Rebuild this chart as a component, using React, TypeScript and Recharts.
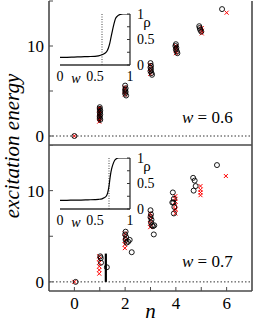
import React from 'react';
import {
  ScatterChart,
  Scatter,
  LineChart,
  Line,
  XAxis,
  YAxis,
  ReferenceLine,
} from 'recharts';

type Pt = [number, number];
type Bar = [number, number, number];

const FONT = '"Liberation Serif", "Times New Roman", serif';

const nTicks = [0, 1, 2, 3, 4, 5, 6];
const nLabels = [0, 2, 4, 6];
const eTicks = [0, 5, 10, 15];
const eLabels = [0, 10];

// panel w = 0.6
const circles06: Pt[] = [
  [0, 0],
  [1.0, 3.2], [1.0, 3.0], [1.02, 2.8], [1.0, 2.6], [1.02, 2.4], [1.0, 2.2], [1.0, 2.0], [1.02, 1.8],
  [2.0, 5.6], [2.02, 5.3], [2.0, 5.1], [2.02, 4.9], [2.0, 4.7], [2.04, 4.5],
  [3.0, 8.1], [3.02, 7.8], [3.0, 7.6], [3.02, 7.4], [3.0, 7.2], [3.04, 7.0], [3.06, 6.8],
  [4.0, 10.2], [3.98, 10.0], [4.02, 9.8], [4.0, 9.6], [4.04, 9.4], [4.06, 9.2],
  [4.92, 12.2], [4.94, 12.0], [4.96, 11.8], [5.0, 11.6],
  [5.82, 14.1],
];
const crosses06: Pt[] = [
  [0, 0],
  [0.98, 1.6], [0.98, 1.9], [0.98, 2.2], [0.98, 2.5], [0.98, 2.8], [0.98, 3.1],
  [1.99, 4.6], [1.99, 4.9], [1.99, 5.2], [1.99, 5.4],
  [2.99, 6.9], [2.99, 7.2], [2.99, 7.5], [2.99, 7.9],
  [4.0, 9.2], [4.0, 9.5], [4.0, 9.8], [4.0, 10.0],
  [5.02, 11.4], [5.02, 11.7], [5.02, 12.0],
  [6.0, 13.7],
];
const bars06: Bar[] = [[1.0, 1.5, 3.3]];

// panel w = 0.7
const circles07: Pt[] = [
  [0.05, 0],
  [1.02, 2.8], [1.04, 2.6], [1.05, 2.1], [1.28, 1.6],
  [2.02, 5.5], [2.0, 5.2], [2.04, 4.9], [2.02, 4.6], [2.06, 4.3], [2.12, 4.4], [2.18, 4.6], [2.26, 3.25],
  [3.0, 7.85], [3.02, 7.4], [3.0, 7.1], [3.04, 6.8], [3.02, 6.5], [3.06, 6.2], [3.1, 6.1], [3.15, 6.2], [3.13, 5.2],
  [3.88, 9.8], [3.92, 9.1], [3.9, 8.7], [3.86, 8.7], [3.94, 8.2], [3.92, 7.5],
  [4.68, 11.4], [4.74, 11.1], [4.78, 10.5], [4.7, 10.0],
  [5.62, 12.8],
];
const crosses07: Pt[] = [
  [0, 0],
  [0.98, 0.9], [0.98, 1.3], [0.98, 1.7], [0.98, 2.1], [0.98, 2.5], [0.98, 2.8],
  [1.99, 3.7], [1.99, 4.1], [1.99, 4.5], [1.99, 4.9], [1.99, 5.3],
  [2.99, 6.0], [2.99, 6.4], [2.99, 6.8], [2.99, 7.2], [2.99, 7.5],
  [3.98, 7.5], [3.98, 7.9], [3.98, 8.0], [3.98, 8.4], [3.98, 8.8], [3.98, 9.1], [3.98, 9.4],
  [4.97, 9.5], [4.97, 9.8], [4.97, 10.1], [4.97, 10.5],
  [5.97, 11.6],
];
const bars07: Bar[] = [[1.24, 0, 3.1]];

// insets: rho vs w
const insetTicks = [0, 0.5, 1];
const wTop = [0, 0.1, 0.2, 0.3, 0.4, 0.5, 0.55, 0.6, 0.64, 0.67, 0.69, 0.71, 0.73, 0.75, 0.77, 0.79, 0.82, 0.86, 0.9, 0.95, 1];
const rhoTop = [0.15, 0.15, 0.155, 0.16, 0.165, 0.17, 0.18, 0.2, 0.23, 0.27, 0.33, 0.42, 0.55, 0.68, 0.8, 0.9, 0.96, 0.99, 1.0, 1.0, 1.0];
const wBot = [0, 0.1, 0.2, 0.3, 0.4, 0.5, 0.55, 0.6, 0.63, 0.66, 0.68, 0.7, 0.72, 0.74, 0.76, 0.78, 0.8, 0.84, 0.9, 1];
const rhoBot = [0.17, 0.17, 0.175, 0.175, 0.18, 0.185, 0.19, 0.2, 0.22, 0.25, 0.31, 0.45, 0.66, 0.8, 0.89, 0.95, 0.98, 1.0, 1.0, 1.0];

const frame = { stroke: '#4a4a4a', strokeWidth: 1.6 };
const tickLn = { stroke: '#4a4a4a', strokeWidth: 1 };

const Circle = (p: any) => (
  <circle cx={p.cx} cy={p.cy} r={2.5} fill="none" stroke="#000" strokeWidth={0.9} />
);
const Cross = (p: any) => (
  <path
    d={`M${p.cx - 2},${p.cy - 2}L${p.cx + 2},${p.cy + 2}M${p.cx - 2},${p.cy + 2}L${p.cx + 2},${p.cy - 2}`}
    stroke="#ff0000"
    strokeWidth={1}
  />
);

interface PanelProps {
  circles: Pt[];
  crosses: Pt[];
  bars: Bar[];
  bottom?: boolean;
}

const toXY = (pts: Pt[]) => pts.map(([x, y]) => ({ x, y }));

const Panel = ({ circles, crosses, bars, bottom }: PanelProps) => (
  <ScatterChart
    width={253}
    height={bottom ? 178 : 146}
    margin={{ top: bottom ? 0 : 1, right: 0, bottom: 0, left: 0 }}
  >
    <XAxis
      xAxisId="b"
      type="number"
      dataKey="x"
      domain={[-1, 7]}
      ticks={nTicks}
      interval={0}
      allowDataOverflow
      height={bottom ? 32 : 1}
      tickSize={-4}
      tickMargin={10}
      tick={bottom ? { fill: '#000', fontSize: 17, fontFamily: FONT } : false}
      tickFormatter={(v) => (nLabels.includes(v) ? String(v) : '')}
      axisLine={frame}
      tickLine={tickLn}
    />
    <XAxis
      xAxisId="t"
      orientation="top"
      type="number"
      domain={[-1, 7]}
      ticks={nTicks}
      interval={0}
      allowDataOverflow
      height={0}
      tickSize={-4}
      tick={false}
      axisLine={frame}
      tickLine={tickLn}
    />
    <YAxis
      yAxisId="l"
      type="number"
      dataKey="y"
      domain={[-1, 15]}
      ticks={eTicks}
      interval={0}
      allowDataOverflow
      width={49}
      tickSize={-4}
      tickMargin={9}
      tick={{ fill: '#000', fontSize: 17, fontFamily: FONT }}
      tickFormatter={(v) => (eLabels.includes(v) ? String(v) : '')}
      axisLine={frame}
      tickLine={tickLn}
    />
    <YAxis
      yAxisId="r"
      orientation="right"
      type="number"
      domain={[-1, 15]}
      ticks={eTicks}
      interval={0}
      allowDataOverflow
      width={1}
      tickSize={-4}
      tick={false}
      axisLine={frame}
      tickLine={tickLn}
    />
    <ReferenceLine xAxisId="b" yAxisId="l" y={0} stroke="#333" strokeDasharray="1.5 2" />
    <Scatter xAxisId="b" yAxisId="l" data={toXY(crosses)} shape={Cross} isAnimationActive={false} />
    <Scatter xAxisId="b" yAxisId="l" data={toXY(circles)} shape={Circle} isAnimationActive={false} />
    {bars.map(([n, lo, hi], i) => (
      <ReferenceLine
        key={i}
        xAxisId="b"
        yAxisId="l"
        segment={[{ x: n, y: lo }, { x: n, y: hi }]}
        stroke="#000"
        strokeWidth={2.2}
      />
    ))}
  </ScatterChart>
);

interface InsetProps {
  w: number[];
  rho: number[];
  mark: number;
  top: number;
}

const inFrame = { stroke: '#333', strokeWidth: 1.3 };

const Inset = ({ w, rho, mark, top }: InsetProps) => {
  const data = w.map((v, i) => ({ w: v, rho: rho[i] }));
  return (
    <div style={{ position: 'absolute', left: 50, top, width: 110, height: 80 }}>
      <LineChart width={110} height={80} data={data} margin={{ top: 10, right: 0, bottom: 0, left: 10 }}>
        <XAxis
          xAxisId="b"
          type="number"
          dataKey="w"
          domain={[0, 1]}
          ticks={insetTicks}
          interval={0}
          allowDataOverflow
          height={19}
          tickSize={0}
          tickMargin={6}
          tick={{ fill: '#000', fontSize: 14, fontFamily: FONT }}
          axisLine={inFrame}
          tickLine={false}
        />
        <XAxis
          xAxisId="t"
          orientation="top"
          type="number"
          domain={[0, 1]}
          ticks={[0.25, 0.5, 0.75]}
          interval={0}
          allowDataOverflow
          height={0}
          tickSize={-3}
          tick={false}
          axisLine={inFrame}
          tickLine={{ stroke: '#333' }}
        />
        <YAxis
          yAxisId="l"
          type="number"
          domain={[0, 1]}
          allowDataOverflow
          width={0}
          tick={false}
          tickLine={false}
          axisLine={inFrame}
        />
        <YAxis
          yAxisId="r"
          orientation="right"
          type="number"
          domain={[0, 1]}
          ticks={[0, 0.25, 0.5, 0.75, 1]}
          interval={0}
          allowDataOverflow
          width={30}
          tickSize={-3}
          tickMargin={10}
          tick={{ fill: '#000', fontSize: 14, fontFamily: FONT }}
          tickFormatter={(v) => (insetTicks.includes(v) ? String(v) : '')}
          axisLine={inFrame}
          tickLine={{ stroke: '#333' }}
        />
        <ReferenceLine xAxisId="b" yAxisId="r" x={mark} stroke="#444" strokeDasharray="1 1.5" />
        <Line
          xAxisId="b"
          yAxisId="r"
          dataKey="rho"
          type="monotone"
          stroke="#000"
          strokeWidth={1.2}
          dot={false}
          isAnimationActive={false}
        />
      </LineChart>
    </div>
  );
};

const App = () => (
  <div
    style={{
      position: 'absolute',
      left: 0,
      top: 0,
      width: 253,
      height: 323,
      background: '#fff',
      fontFamily: FONT,
    }}
  >
    <div style={{ position: 'absolute', left: 0, top: 0 }}>
      <Panel circles={circles06} crosses={crosses06} bars={bars06} />
    </div>
    <div style={{ position: 'absolute', left: 0, top: 145 }}>
      <Panel circles={circles07} crosses={crosses07} bars={bars07} bottom />
    </div>
    <Inset w={wTop} rho={rhoTop} mark={0.6} top={4} />
    <Inset w={wBot} rho={rhoBot} mark={0.7} top={148} />
    <svg
      width={253}
      height={323}
      style={{ position: 'absolute', left: 0, top: 0, pointerEvents: 'none' }}
      fontFamily={FONT}
    >
      <text x={19} y={146} transform="rotate(-90 19 146)" textAnchor="middle" fontSize={21} fontStyle="italic">
        excitation energy
      </text>
      <text x={150.5} y={318} textAnchor="middle" fontSize={21} fontStyle="italic">
        n
      </text>
      <text x={182} y={123} fontSize={17}>
        <tspan fontStyle="italic">w</tspan> = 0.6
      </text>
      <text x={182} y={267} fontSize={17}>
        <tspan fontStyle="italic">w</tspan> = 0.7
      </text>
      <text x={76} y={83} textAnchor="middle" fontSize={14} fontStyle="italic">w</text>
      <text x={76} y={227} textAnchor="middle" fontSize={14} fontStyle="italic">w</text>
      <text x={147} y={27} textAnchor="middle" fontSize={15}>ρ</text>
      <text x={147} y={171} textAnchor="middle" fontSize={15}>ρ</text>
    </svg>
  </div>
);

export default App;
